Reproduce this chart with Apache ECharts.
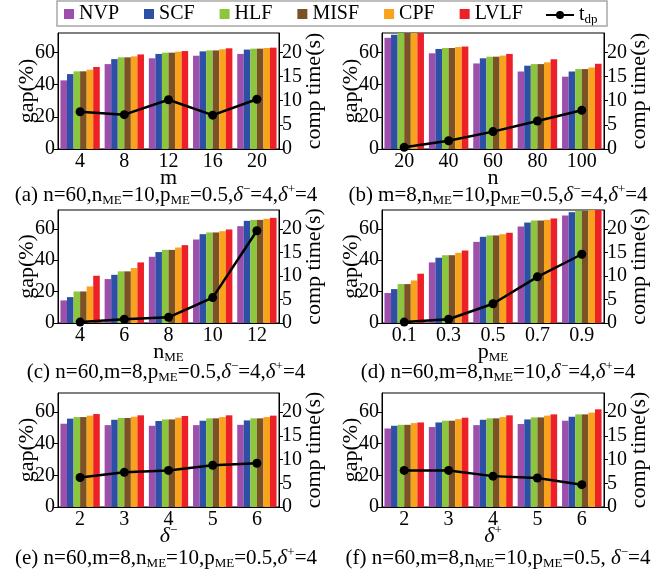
<!DOCTYPE html>
<html><head><meta charset="utf-8">
<script src="https://cdn.jsdelivr.net/npm/echarts@6/dist/echarts.min.js"></script>
<style>html,body{margin:0;padding:0;background:#fff}#c{width:662px;height:577px}</style>
</head><body><div id="c"></div>
<script>
// ---- data ----
const methods = ['NVP', 'SCF', 'HLF', 'MISF', 'CPF', 'LVLF'];
const lineName = 'tdp';
const colors = ['#9d4fac', '#2d4fa6', '#8cc63e', '#7b5226', '#f8a31b', '#ed1f27'];

// (a) varying m
const catM = ['4', '8', '12', '16', '20'];
const gapM = [ // NVP, SCF, HLF, MISF, CPF, LVLF
  [42.6, 52.7, 56.3, 57.9, 59.0],
  [46.5, 55.8, 59.0, 60.6, 61.7],
  [48.2, 56.9, 59.8, 61.2, 62.3],
  [48.2, 56.9, 59.8, 61.2, 62.3],
  [49.2, 57.5, 60.4, 61.9, 62.7],
  [50.9, 58.7, 60.8, 62.5, 62.9]
];
const timeM = [7.7, 7.1, 10.2, 7.0, 10.3];

// (b) varying n
const catN = ['20', '40', '60', '80', '100'];
const gapN = [
  [69.0, 59.4, 53.1, 48.1, 44.9],
  [70.9, 62.1, 56.3, 51.7, 48.1],
  [73.0, 62.7, 57.3, 52.7, 49.6],
  [73.0, 62.7, 57.3, 52.7, 49.6],
  [74.0, 63.3, 58.0, 53.8, 50.6],
  [75.0, 63.6, 59.0, 55.7, 52.9]
];
const timeN = [0.35, 1.7, 3.6, 5.8, 8.0];

// (c) varying n_ME
const catNME = ['4', '6', '8', '10', '12'];
const gapNME = [
  [14.4, 28.0, 42.2, 53.2, 61.7],
  [16.5, 30.7, 45.2, 56.6, 65.1],
  [20.1, 32.9, 46.6, 57.7, 65.7],
  [20.1, 32.9, 46.6, 57.7, 65.7],
  [23.3, 35.0, 48.1, 58.5, 66.4],
  [30.1, 38.6, 49.6, 59.6, 67.0]
];
const timeNME = [0.2, 0.8, 1.2, 5.4, 19.6];

// (d) varying p_ME
const catPME = ['0.1', '0.3', '0.5', '0.7', '0.9'];
const gapPME = [
  [19.1, 38.6, 51.7, 61.5, 68.5],
  [21.6, 41.6, 54.9, 64.0, 70.6],
  [24.8, 43.2, 55.8, 65.3, 71.4],
  [24.8, 43.2, 55.8, 65.3, 71.4],
  [27.1, 44.7, 56.6, 65.7, 72.3],
  [31.4, 46.2, 57.5, 66.6, 73.5]
];
const timePME = [0.2, 0.8, 4.1, 9.8, 14.6];

// (e) varying delta-
const catDm = ['2', '3', '4', '5', '6'];
const gapDm = [
  [52.6, 51.7, 51.3, 51.7, 51.9],
  [55.8, 55.1, 54.3, 54.5, 54.7],
  [56.8, 56.2, 55.3, 56.0, 56.0],
  [56.8, 56.2, 55.3, 56.0, 56.0],
  [57.7, 57.0, 56.4, 56.8, 56.8],
  [58.7, 57.9, 57.5, 57.9, 57.7]
];
const timeDm = [6.2, 7.3, 7.7, 8.8, 9.2];

// (f) varying delta+
const catDp = ['2', '3', '4', '5', '6'];
const gapDp = [
  [49.6, 50.5, 51.7, 52.4, 54.5],
  [51.3, 53.4, 55.1, 55.3, 57.0],
  [51.9, 54.5, 56.0, 56.6, 58.5],
  [51.9, 54.5, 56.0, 56.6, 58.5],
  [53.0, 55.5, 56.8, 57.7, 59.6],
  [53.4, 56.4, 57.9, 58.5, 61.7]
];
const timeDp = [7.7, 7.7, 6.5, 6.1, 4.7];

const leftTicks = [0, 20, 40, 60];
const rightTicks = [0, 5, 10, 15, 20];

const xNames = ['m', 'n', 'n{sub|ME}', 'p{sub|ME}', '{it|δ}{sup|−}', '{it|δ}{sup|+}'];
const captions = [
  '(a) n=60,n{sub|ME}=10,p{sub|ME}=0.5,{it|δ}{sup|−}=4,{it|δ}{sup|+}=4',
  '(b) m=8,n{sub|ME}=10,p{sub|ME}=0.5,{it|δ}{sup|−}=4,{it|δ}{sup|+}=4',
  '(c) n=60,m=8,p{sub|ME}=0.5,{it|δ}{sup|−}=4,{it|δ}{sup|+}=4',
  '(d) n=60,m=8,n{sub|ME}=10,{it|δ}{sup|−}=4,{it|δ}{sup|+}=4',
  '(e) n=60,m=8,n{sub|ME}=10,p{sub|ME}=0.5,{it|δ}{sup|+}=4',
  '(f) n=60,m=8,n{sub|ME}=10,p{sub|ME}=0.5, {it|δ}{sup|−}=4'
];

// ---- build ----
const FONT = 'Liberation Serif';
const panelCats = [catM, catN, catNME, catPME, catDm, catDp];
const panelGaps = [gapM, gapN, gapNME, gapPME, gapDm, gapDp];
const panelTimes = [timeM, timeN, timeNME, timePME, timeDm, timeDp];

const rowsTop = [33, 210, 393];
const rowsH = [116, 113, 114];
const colLeft = [58, 382];
const colRight = [383, 58];
const capX = [166, 498];
const capY = [195, 372, 558];

const richCommon = {
  sub: { fontSize: 13, fontFamily: FONT, verticalAlign: 'bottom', color: '#000' },
  sup: { fontSize: 13, fontFamily: FONT, verticalAlign: 'top', color: '#000' },
  it: { fontSize: 22, fontFamily: FONT, fontStyle: 'italic', color: '#000' }
};

const grid = [], xAxis = [], yAxis = [], series = [], graphic = [];
for (let p = 0; p < 6; p++) {
  const r = Math.floor(p / 2), c = p % 2;
  grid.push({ left: colLeft[c], right: colRight[c], top: rowsTop[r], height: rowsH[r],
    show: true, borderColor: '#000', borderWidth: 1, backgroundColor: 'transparent' });
  xAxis.push({
    type: 'category', gridIndex: p, data: panelCats[p],
    axisLine: { lineStyle: { color: '#000', width: 1 } },
    axisTick: { alignWithLabel: true, length: 4, lineStyle: { color: '#000' } },
    axisLabel: { color: '#000', fontSize: 20, fontFamily: FONT, margin: 3 },
    name: xNames[p], nameLocation: 'middle', nameGap: 17, nameMoveOverlap: false,
    nameTextStyle: { color: '#000', fontSize: 22, fontFamily: FONT, lineHeight: 24, rich: richCommon }
  });
  yAxis.push({
    type: 'value', gridIndex: p, min: 0, max: 72, interval: 20, position: 'left',
    splitLine: { show: false },
    axisLine: { show: true, lineStyle: { color: '#000', width: 1 } },
    axisTick: { show: true, length: 4, lineStyle: { color: '#000' }, customValues: leftTicks },
    axisLabel: { color: '#000', fontSize: 20, fontFamily: FONT, margin: 3, customValues: leftTicks },
    name: 'gap(%)', nameLocation: 'middle', nameRotate: 90, nameGap: 20, nameMoveOverlap: false,
    nameTextStyle: { color: '#000', fontSize: 22, fontFamily: FONT }
  });
  yAxis.push({
    type: 'value', gridIndex: p, min: 0, max: 24, interval: 5, position: 'right',
    splitLine: { show: false },
    axisLine: { show: true, lineStyle: { color: '#000', width: 1 } },
    axisTick: { show: true, length: 4, lineStyle: { color: '#000' }, customValues: rightTicks },
    axisLabel: { color: '#000', fontSize: 20, fontFamily: FONT, margin: 3, customValues: rightTicks },
    name: 'comp time(s)', nameLocation: 'middle', nameRotate: 90, nameGap: 24, nameMoveOverlap: false,
    nameTextStyle: { color: '#000', fontSize: 22, fontFamily: FONT }
  });
  for (let k = 0; k < methods.length; k++) {
    series.push({
      type: 'bar', name: methods[k], xAxisIndex: p, yAxisIndex: 2 * p,
      data: panelGaps[p][k], barGap: '0%', barCategoryGap: '11%',
      itemStyle: { color: colors[k] }, clip: true, silent: true, animation: false
    });
  }
  series.push({
    type: 'line', name: lineName, xAxisIndex: p, yAxisIndex: 2 * p + 1,
    data: panelTimes[p], symbol: 'circle', symbolSize: 9,
    lineStyle: { color: '#000', width: 2.5 }, itemStyle: { color: '#000' },
    z: 5, animation: false, silent: true
  });
  graphic.push({
    type: 'text', x: capX[c], y: capY[r],
    style: {
      text: captions[p], fill: '#000', fontSize: 21, fontFamily: FONT,
      align: 'center', verticalAlign: 'middle', lineHeight: 24,
      rich: {
        sub: { fontSize: 13, fontFamily: FONT, verticalAlign: 'bottom', fill: '#000' },
        sup: { fontSize: 13, fontFamily: FONT, verticalAlign: 'top', fill: '#000' },
        it: { fontSize: 21, fontFamily: FONT, fontStyle: 'italic', fill: '#000' }
      }
    }
  });
}
graphic.push({
  type: 'rect', shape: { x: 57, y: 1, width: 550, height: 25 },
  style: { fill: 'none', stroke: '#a8a8a8', lineWidth: 1.5 }, z: 100
});

const option = {
  animation: false,
  backgroundColor: '#fff',
  textStyle: { fontFamily: FONT },
  legend: [
    {
      data: methods, left: 64, top: 4, padding: 0, itemGap: 25,
      itemWidth: 10, itemHeight: 10, icon: 'rect',
      textStyle: { color: '#000', fontSize: 20, fontFamily: FONT }
    },
    {
      data: [lineName], left: 545, top: 4, padding: 0,
      itemWidth: 28, itemHeight: 10,
      formatter: function () { return 't{sub|dp}'; },
      textStyle: { color: '#000', fontSize: 20, fontFamily: FONT, lineHeight: 22,
        rich: { sub: { fontSize: 13, fontFamily: FONT, verticalAlign: 'bottom', color: '#000' } } }
    }
  ],
  grid, xAxis, yAxis, series, graphic
};
const chart = echarts.init(document.getElementById('c'), null, { renderer: 'canvas' });
chart.setOption(option);
</script></body></html>
